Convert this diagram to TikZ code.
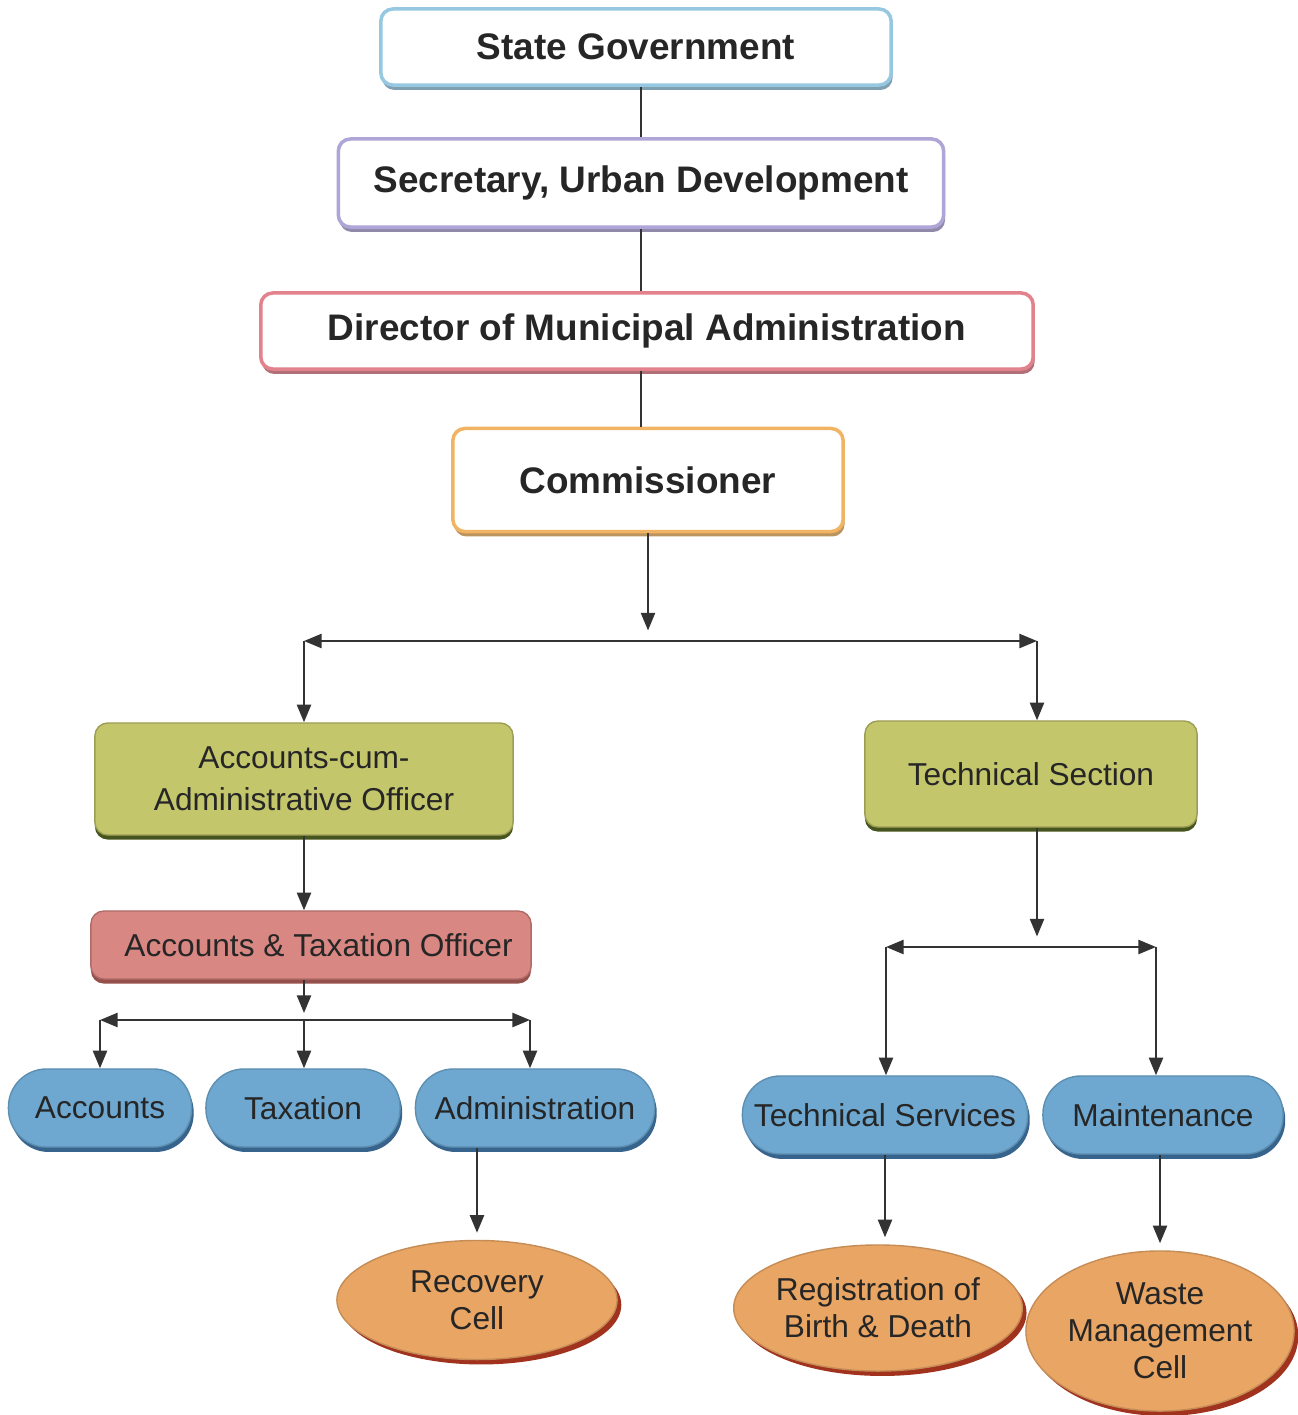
\documentclass[tikz,border=0pt]{standalone}
\usepackage{fontspec}
\setmainfont{Liberation Sans}
\usetikzlibrary{arrows.meta,shapes.geometric,shadows}
\definecolor{sgblue}{RGB}{150,200,225}
\definecolor{seclav}{RGB}{175,165,215}
\definecolor{dirpink}{RGB}{225,130,140}
\definecolor{comorange}{RGB}{240,180,100}
\definecolor{offgreen}{RGB}{196,198,108}
\definecolor{offgreendk}{RGB}{70,85,30}
\definecolor{atored}{RGB}{217,135,130}
\definecolor{atoreddk}{RGB}{150,80,75}
\definecolor{secblue}{RGB}{110,168,208}
\definecolor{secbluedk}{RGB}{55,100,140}
\definecolor{cellorange}{RGB}{232,165,100}
\definecolor{cellorangedk}{RGB}{160,50,30}
\begin{document}
\begin{tikzpicture}[x=0.01cm,y=-0.01cm,
	topbox/.style={draw=#1,line width=1pt,fill=white,rounded corners=0.12cm,text=black!85,
		font=\fontsize{10.5}{12}\selectfont\bfseries,
		drop shadow={shadow xshift=0.4pt,shadow yshift=-1.4pt,fill=#1!75!black,opacity=0.9}},
	offbox/.style 2 args={draw=#1!80!black,line width=0.4pt,fill=#1,rounded corners=0.13cm,text=black!85,
		font=\fontsize{9}{12}\selectfont,align=center,
		drop shadow={shadow xshift=0pt,shadow yshift=-1.3pt,fill=#2,opacity=1}},
	pill/.style={draw=secblue!85!black,line width=0.4pt,fill=secblue,rounded corners=0.38cm,text=black!85,
		font=\fontsize{9}{11}\selectfont,minimum height=0.78cm,inner sep=0pt,
		drop shadow={shadow xshift=0.6pt,shadow yshift=-1.4pt,fill=secbluedk,opacity=1}},
	cell/.style={ellipse,draw=cellorange!85!black,line width=0.4pt,fill=cellorange,text=black!85,
		font=\fontsize{9}{10.5}\selectfont,align=center,inner sep=0pt,
		drop shadow={shadow xshift=1.2pt,shadow yshift=-1.4pt,fill=cellorangedk,opacity=1}},
	line/.style={draw=black!80,line width=0.6pt},
	conn/.style={line,-{Triangle[length=5pt,width=4pt]}},
	bar/.style={line,{Triangle[length=5pt,width=4pt]}-{Triangle[length=5pt,width=4pt]}}]
\useasboundingbox (0,0) rectangle (1298,1415);
% top chain
\node[topbox=sgblue,minimum width=5.1cm,minimum height=0.76cm](sg)at(636,47){State Government};
\node[topbox=seclav,minimum width=6.05cm,minimum height=0.88cm](sec)at(641,183){Secretary, Urban Development};
\node[topbox=dirpink,minimum width=7.72cm,minimum height=0.76cm](dma)at(647,331){Director of Municipal Administration};
\node[topbox=comorange,minimum width=3.9cm,minimum height=1.03cm](com)at(648,480){Commissioner};
\draw[line](sec|-sg.south)--(sec);
\draw[line](sec)--(sec|-dma.north);
\draw[line](sec|-dma.south)--(sec|-com.north);
% branch coordinates
\coordinate(b1l)at(304,641);\coordinate(b1r)at(1037,641);
\coordinate(b2l)at(100,1020);\coordinate(b2m)at(304,1020);\coordinate(b2r)at(530,1020);
\coordinate(b3l)at(886,947);\coordinate(b3r)at(1156,947);
% second level
\node[offbox={offgreen}{offgreendk},minimum width=4.18cm,minimum height=1.12cm](acao)at(304,779)
	{\fontsize{9}{12.5}\selectfont Accounts-cum-\\Administrative Officer};
\node[offbox={offgreen}{offgreendk},minimum width=3.32cm,minimum height=1.06cm](tech)at(1031,774){Technical Section};
\node[offbox={atored}{atoreddk},minimum width=4.4cm,minimum height=0.68cm](ato)at(311,945){\hspace{0.15cm}Accounts \& Taxation Officer};
% sections
\node[pill,minimum width=1.83cm](acc)at(100,1108){Accounts};
\node[pill,minimum width=1.94cm](tax)at(303,1108){Taxation};
\node[pill,minimum width=2.39cm](adm)at(535,1108){Administration};
\node[pill,minimum width=2.85cm](ts)at(885,1115){Technical Services};
\node[pill,minimum width=2.4cm](mnt)at(1163,1115){Maintenance};
% cells
\node[cell,minimum width=2.8cm,minimum height=1.19cm](rec)at(477,1300){Recovery\\Cell};
\node[cell,minimum width=2.78cm,minimum height=1.26cm](reg)at(878,1308){Registration of\\Birth \& Death};
\node[cell,minimum width=2.68cm,minimum height=1.6cm](wst)at(1160,1331){\fontsize{9}{9.4}\selectfont Waste\\Management\\Cell};
% connectors
\draw[conn,shorten >=3pt](com)--(com|-b1l);
\draw[bar](b1l)--(b1r);
\draw[conn](b1l)--(acao);
\draw[conn](b1r)--(b1r|-tech.north);
\draw[conn](acao)--(acao|-ato.north);
\draw[conn,shorten >=2pt](acao|-ato.south)--(b2m);
\draw[bar](b2l)--(b2r);
\draw[conn](b2l)--(acc);
\draw[conn](b2m)--(b2m|-tax.north);
\draw[conn](b2r)--(b2r|-adm.north);
\draw[conn,shorten >=2pt](rec|-adm.south)--(rec);
\draw[conn,shorten >=3pt](b1r|-tech.south)--(b1r|-b3l);
\draw[bar](b3l)--(b3r);
\draw[conn](b3l)--(b3l|-ts.north);
\draw[conn](b3r)--(b3r|-mnt.north);
\draw[conn,shorten >=2pt](ts.south)--(ts.south|-reg.north);
\draw[conn,shorten >=2pt](wst|-mnt.south)--(wst);
\end{tikzpicture}
\end{document}
